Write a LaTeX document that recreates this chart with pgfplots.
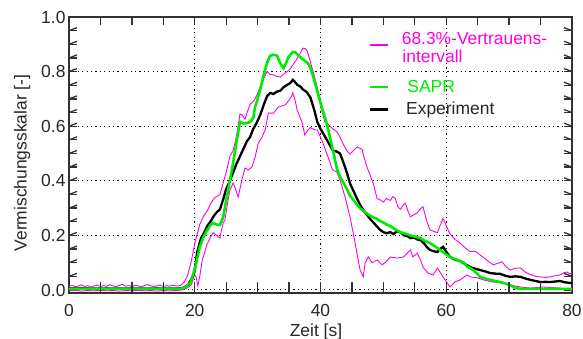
\documentclass[border=0pt]{standalone}
\usepackage{pgfplots}
\pgfplotsset{compat=1.18}
\usepackage{fontspec}
\setmainfont{Liberation Sans}
\definecolor{magc}{RGB}{255,0,225}
\definecolor{grnc}{RGB}{0,235,0}
\definecolor{framec}{RGB}{50,50,50}

\pgfplotstableread{
x y
0 0.006
2 0.007
4 0.005
6 0.006
8 0.005
10 0.006
12 0.005
14 0.006
16 0.005
17.5 0.006
18.2 0.008
19.0 0.02
19.9 0.06
20.4 0.14
21.0 0.19
21.5 0.21
22.0 0.235
22.5 0.25
23.0 0.27
23.5 0.285
24.0 0.295
24.5 0.33
25.0 0.37
25.5 0.395
26.1 0.43
26.6 0.46
27.2 0.49
27.8 0.52
28.3 0.545
28.8 0.56
29.3 0.59
29.8 0.61
30.4 0.64
31.0 0.68
31.5 0.71
32.0 0.722
32.5 0.718
33.1 0.727
33.6 0.73
34.1 0.742
34.6 0.75
35.2 0.758
35.6 0.77
36.0 0.76
36.3 0.752
36.8 0.745
37.2 0.735
37.8 0.725
38.4 0.705
39.0 0.66
39.5 0.615
40.0 0.59
40.4 0.575
41.0 0.55
41.5 0.53
42.0 0.51
42.5 0.508
43.1 0.50
43.6 0.47
44.2 0.43
44.7 0.39
45.3 0.36
45.8 0.335
46.3 0.312
46.8 0.293
47.4 0.275
47.9 0.26
48.5 0.245
49.0 0.232
49.5 0.22
50.0 0.212
50.5 0.208
51.1 0.212
51.6 0.205
52.2 0.215
52.7 0.212
53.3 0.20
53.8 0.198
54.3 0.19
54.9 0.192
55.4 0.185
55.9 0.183
56.5 0.17
57.0 0.155
57.4 0.147
58.0 0.142
58.6 0.139
59.0 0.15
59.5 0.158
60.0 0.14
60.6 0.121
61.3 0.112
62.2 0.106
63.0 0.095
63.8 0.084
64.6 0.078
65.4 0.073
66.2 0.068
67.0 0.062
67.8 0.060
68.6 0.059
69.4 0.052
70.2 0.048
71.0 0.050
71.8 0.048
72.6 0.042
73.4 0.037
74.2 0.033
75.0 0.029
75.8 0.030
76.5 0.029
77.3 0.031
78.1 0.033
78.9 0.028
79.7 0.026
80 0.024
}\tabexp

\pgfplotstableread{
x y
0 0.005
4 0.005
8 0.005
12 0.005
16 0.005
17.7 0.005
18.5 0.01
19.3 0.026
20.1 0.084
20.8 0.158
21.4 0.195
22.0 0.220
22.5 0.238
22.9 0.245
23.5 0.240
24.0 0.238
24.5 0.265
25.1 0.341
25.6 0.403
26.1 0.465
26.7 0.55
27.2 0.615
27.8 0.61
28.3 0.612
28.8 0.615
29.3 0.63
29.6 0.67
30.0 0.70
30.4 0.733
31.0 0.79
31.5 0.832
32.0 0.858
32.5 0.862
33.1 0.858
33.6 0.83
34.1 0.813
34.5 0.83
34.9 0.853
35.6 0.872
36.0 0.87
36.4 0.861
37.2 0.845
38.0 0.83
38.4 0.815
39.1 0.76
39.6 0.72
40.0 0.685
40.6 0.64
41.1 0.60
41.5 0.56
42.0 0.51
42.6 0.445
43.1 0.415
43.6 0.395
44.2 0.37
44.7 0.345
45.3 0.328
45.8 0.313
46.3 0.30
46.8 0.29
47.4 0.28
47.9 0.272
48.5 0.265
49.0 0.26
49.5 0.252
50.0 0.247
50.5 0.24
51.1 0.234
51.9 0.222
52.7 0.212
53.5 0.206
54.3 0.20
55.1 0.195
55.9 0.19
56.6 0.18
57.4 0.172
58.2 0.16
59.0 0.147
59.8 0.133
60.6 0.121
61.4 0.113
62.2 0.106
62.8 0.10
63.3 0.086
63.8 0.08
64.3 0.073
64.9 0.06
65.4 0.048
66.2 0.042
67.0 0.037
67.8 0.033
68.6 0.029
69.4 0.024
70.2 0.018
71.0 0.007
72.0 0.004
80 0.004
}\tabsapr

\pgfplotstableread{
x y
0 0.014
0.5 0.017
1 0.012
1.5 0.015
2 0.019
2.5 0.013
3 0.016
3.5 0.011
4 0.015
4.5 0.018
5 0.013
5.5 0.016
6 0.014
6.5 0.019
7 0.015
7.5 0.012
8 0.017
8.5 0.021
9 0.014
9.5 0.016
10 0.013
10.5 0.017
11 0.015
11.5 0.012
12 0.016
12.5 0.020
13 0.015
13.5 0.013
14 0.015
14.5 0.017
15 0.013
15.5 0.016
16 0.014
16.5 0.017
17 0.015
17.7 0.016
18.3 0.028
18.8 0.05
19.4 0.10
20.1 0.18
20.8 0.24
21.4 0.27
22.0 0.29
22.5 0.315
22.9 0.33
23.3 0.34
23.7 0.345
24.0 0.35
24.5 0.39
25.1 0.44
25.6 0.49
26.1 0.51
26.6 0.56
26.9 0.60
27.2 0.645
27.6 0.64
28.0 0.625
28.4 0.655
28.8 0.68
29.3 0.69
29.6 0.70
30.0 0.72
30.4 0.745
31.0 0.775
31.5 0.80
32.0 0.79
32.5 0.788
33.1 0.782
33.6 0.78
34.1 0.79
34.7 0.80
35.2 0.81
35.6 0.824
36.2 0.845
36.8 0.868
37.2 0.886
37.6 0.884
37.9 0.875
38.4 0.835
39.1 0.777
39.5 0.74
39.9 0.696
40.3 0.65
40.7 0.615
41.1 0.61
41.5 0.60
42.0 0.59
42.6 0.58
43.1 0.56
43.6 0.535
44.2 0.51
44.7 0.498
45.2 0.51
45.8 0.524
46.2 0.52
46.6 0.515
47.0 0.48
47.4 0.45
47.9 0.42
48.4 0.39
49.0 0.335
49.5 0.33
50.0 0.322
50.5 0.335
51.1 0.328
51.5 0.342
51.9 0.335
52.3 0.305
52.7 0.295
53.1 0.31
53.5 0.318
53.9 0.29
54.3 0.268
54.8 0.275
55.4 0.283
55.9 0.298
56.3 0.305
56.8 0.26
57.4 0.22
58.0 0.215
58.6 0.21
59.0 0.235
59.5 0.262
60.0 0.235
60.6 0.205
61.4 0.185
62.2 0.172
63.0 0.155
63.8 0.14
64.4 0.142
64.9 0.138
65.4 0.128
65.9 0.12
66.7 0.105
67.5 0.092
68.2 0.098
68.9 0.103
69.5 0.085
70.2 0.073
71.0 0.08
71.8 0.081
72.6 0.065
73.4 0.056
74.2 0.05
75.0 0.048
75.8 0.046
76.5 0.048
77.3 0.052
78.1 0.055
78.7 0.063
79.2 0.066
79.6 0.06
80 0.062
}\tabup

\pgfplotstableread{
x y
0 -0.003
1 -0.001
2 -0.004
3 -0.002
4 -0.003
5 -0.001
6 -0.003
7 -0.002
8 -0.004
9 -0.002
10 -0.003
11 -0.001
12 -0.003
13 -0.002
14 -0.004
15 -0.002
16 -0.003
17 -0.002
18.0 0.000
18.8 0.007
19.5 0.02
19.9 0.055
20.2 0.05
20.5 0.015
20.8 0.05
21.2 0.11
22.0 0.17
22.9 0.21
23.5 0.20
24.0 0.19
24.5 0.245
24.8 0.256
25.3 0.33
25.6 0.366
26.1 0.392
26.5 0.37
26.9 0.34
27.5 0.403
28.0 0.447
28.5 0.44
29.1 0.45
29.6 0.487
30.1 0.538
30.7 0.56
31.2 0.586
31.7 0.648
32.5 0.648
33.3 0.67
34.4 0.678
35.0 0.695
35.5 0.714
35.6 0.722
35.9 0.70
36.3 0.659
37.1 0.612
37.5 0.568
38.0 0.586
38.4 0.595
39.1 0.586
39.5 0.586
40.4 0.538
41.2 0.487
41.9 0.44
42.6 0.432
43.1 0.403
43.9 0.341
44.7 0.267
45.5 0.172
46.3 0.073
46.8 0.048
47.1 0.099
47.6 0.121
48.2 0.10
49.0 0.11
49.8 0.092
50.5 0.105
51.1 0.121
52.2 0.117
53.2 0.121
54.3 0.147
54.7 0.121
55.4 0.135
55.9 0.11
56.3 0.084
57.1 0.062
57.9 0.055
58.6 0.08
59.5 0.048
60.6 0.011
61.4 0.03
62.2 0.037
63.3 0.055
63.8 0.048
64.9 0.045
65.9 0.037
67.5 0.029
69.0 0.026
70.2 0.018
71.8 0.011
73.4 0.007
75.4 0.011
78.1 0.007
79.7 0.000
80 -0.003
}\tablow

\begin{document}
\begin{tikzpicture}
\begin{axis}[
  name=ax,
  scale only axis, width=503bp, height=276bp,
  xmin=0, xmax=80, ymin=-0.011, ymax=1.0,
  xtick={0,20,40,60,80}, ytick={0,0.2,0.4,0.6,0.8,1.0},
  minor x tick num=3, minor y tick num=3,
  xtick pos=both, ytick pos=both, tick align=inside,
  major tick length=8bp, minor tick length=8bp,
  tick style={draw=framec, line width=1.3bp},
  axis line style={draw=framec, line width=1.3bp},
  grid=major,
  major grid style={draw=black, line width=1bp, dash pattern=on 1.2bp off 3.2bp},
  font=\fontsize{17.5}{20}\selectfont,
  tick label style={font=\fontsize{17.5}{20}\selectfont, text=black!85},
  /pgf/number format/assume math mode=true,
  yticklabel style={/pgf/number format/fixed, /pgf/number format/fixed zerofill, /pgf/number format/precision=1},
  xticklabel style={yshift=-8bp},
  xlabel={Zeit [s]}, ylabel={Vermischungsskalar [-]},
  xlabel style={at={(axis description cs:0.491,-0.156)}, anchor=base, text=black!85},
  ylabel style={at={(axis description cs:-0.084,0.471)}, anchor=base, text=black!85},
]
\addplot[draw=magc, line width=0.9bp] table {\tabup};
\addplot[draw=magc, line width=0.9bp] table {\tablow};
\addplot[draw=black, line width=2.3bp] table {\tabexp};
\addplot[draw=grnc, line width=2.6bp] table {\tabsapr};

\pgfplotsinvokeforeach{5,10,15,20,25,30,35,40,45,50,55,60,65,70,75}{
  \draw[framec, line width=1.3bp] (axis cs:#1,-0.011) -- ++(0,8bp);
  \draw[framec, line width=1.3bp] (axis cs:#1,1.0) -- ++(0,-8bp);
}
\pgfplotsinvokeforeach{0.05,0.1,0.15,0.2,0.25,0.3,0.35,0.4,0.45,0.5,0.55,0.6,0.65,0.7,0.75,0.8,0.85,0.9,0.95}{
  \draw[framec, line width=1.3bp] (axis cs:0,#1) -- ++(8bp,0);
  \draw[framec, line width=1.3bp] (axis cs:80,#1) -- ++(-8bp,0);
}

\draw[draw=magc, line width=1.6bp] (axis cs:47.9,0.897) -- (axis cs:50.8,0.897);
\draw[draw=grnc, line width=2.6bp] (axis cs:47.9,0.744) -- (axis cs:50.8,0.744);
\draw[draw=black, line width=2.6bp] (axis cs:47.9,0.662) -- (axis cs:50.8,0.662);
\node[anchor=base west, inner sep=0, text=magc] at (axis cs:52.9,0.900) {68.3\%-Vertrauens-};
\node[anchor=base west, inner sep=0, text=magc] at (axis cs:53.0,0.832) {intervall};
\node[anchor=base west, inner sep=0, text=grnc] at (axis cs:53.8,0.723) {SAPR};
\node[anchor=base west, inner sep=0, text=black!85] at (axis cs:53.6,0.643) {Experiment};
\end{axis}
\pgfresetboundingbox
\path ([shift={(-69bp,-46bp)}]ax.south west) rectangle ([shift={(11bp,17bp)}]ax.north east);
\end{tikzpicture}
\end{document}
